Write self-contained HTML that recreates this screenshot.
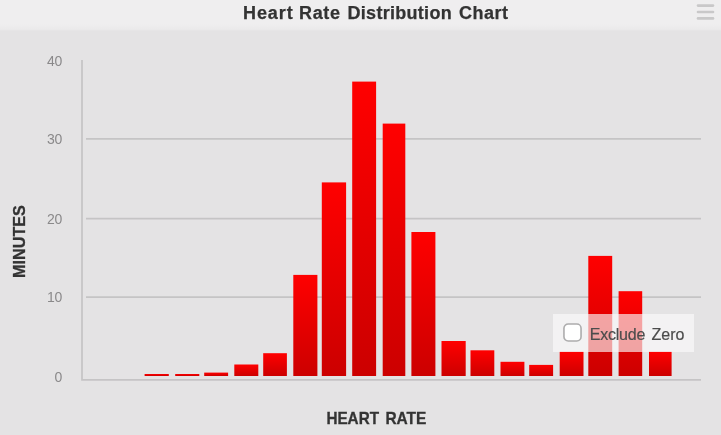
<!DOCTYPE html>
<html>
<head>
<meta charset="utf-8">
<title>Heart Rate Distribution Chart</title>
<style>
html,body{margin:0;padding:0;}
body{width:721px;height:435px;overflow:hidden;background:#e4e3e4;font-family:"Liberation Sans",sans-serif;position:relative;}
#titlebar{position:absolute;left:0;top:0;width:721px;height:32px;background:linear-gradient(to bottom,#efeeef 0,#efeeef 24px,#ebeaeb 29.2px,#e4e3e4 31px);}
#title span{position:absolute;top:0;}
#title{position:absolute;left:0;top:0;width:721px;font-weight:bold;font-size:18px;line-height:26px;color:#333;-webkit-text-stroke:0.25px #333;white-space:nowrap;}
#menu{position:absolute;left:696px;top:4px;width:19px;height:16px;}
#chart{position:absolute;left:0;top:0;width:721px;height:435px;}
#chart,#title,#menu,#opt{filter:blur(0.45px);}
.ylab{font-size:14px;letter-spacing:-0.3px;fill:#8a898a;}
.axt{font-size:16.2px;letter-spacing:-0.33px;word-spacing:3px;font-weight:bold;fill:#333;stroke:#333;stroke-width:0.3px;}
#opt{position:absolute;left:553px;top:314px;width:140.5px;height:37.7px;background:rgba(250,250,250,0.65);}
#cb{position:absolute;left:9.6px;top:9.4px;width:19px;height:19px;}
#cbl{position:absolute;left:36.7px;top:1.6px;line-height:38px;font-size:16px;letter-spacing:0px;word-spacing:2px;color:#4c4c4c;-webkit-text-stroke:0.2px #4c4c4c;white-space:nowrap;}
</style>
</head>
<body>
<div id="titlebar"></div>
<div id="title"><span style="left:243px;letter-spacing:0.92px">Heart</span> <span style="left:299px;letter-spacing:0.68px">Rate</span> <span style="left:347.5px;letter-spacing:0.29px">Distribution</span> <span style="left:459px;letter-spacing:0.52px">Chart</span></div>
<svg id="menu" viewBox="0 0 19 16"><g stroke="#c9c8c9" stroke-width="2.6" stroke-linecap="round"><line x1="2" y1="1.6" x2="17" y2="1.6"/><line x1="2" y1="8" x2="17" y2="8"/><line x1="2" y1="14.4" x2="17" y2="14.4"/></g></svg>
<svg id="chart" viewBox="0 0 721 435">
<defs><linearGradient id="g" x1="0" y1="0" x2="0" y2="1"><stop offset="0" stop-color="#ff0000"/><stop offset="1" stop-color="#cc0000"/></linearGradient></defs>
<g stroke="#c5c4c5" stroke-width="1.7" fill="none">
<line x1="86" y1="138.9" x2="701" y2="138.9"/>
<line x1="86" y1="218.6" x2="701" y2="218.6"/>
<line x1="86" y1="297.1" x2="701" y2="297.1"/>
<polyline points="82,60 82,379.9 701,379.9"/>
</g>
<g fill="url(#g)" id="bars">
<rect x="144.6" y="374.0" width="24.2" height="2.0"/>
<rect x="175.2" y="374.0" width="24.1" height="2.0"/>
<rect x="204.2" y="372.6" width="23.9" height="3.4"/>
<rect x="234.3" y="364.5" width="24.0" height="11.5"/>
<rect x="263.2" y="353.2" width="23.7" height="22.8"/>
<rect x="293.3" y="274.9" width="24.1" height="101.1"/>
<rect x="321.8" y="182.4" width="24.3" height="193.6"/>
<rect x="352.2" y="81.6" width="23.9" height="294.4"/>
<rect x="382.7" y="123.6" width="22.6" height="252.4"/>
<rect x="411.4" y="232.0" width="24.0" height="144.0"/>
<rect x="441.5" y="341.0" width="24.2" height="35.0"/>
<rect x="470.5" y="350.3" width="23.8" height="25.7"/>
<rect x="500.5" y="361.8" width="23.9" height="14.2"/>
<rect x="529.2" y="364.9" width="23.9" height="11.1"/>
<rect x="559.7" y="351.7" width="23.8" height="24.3"/>
<rect x="588.3" y="255.9" width="23.9" height="120.1"/>
<rect x="618.6" y="291.2" width="23.6" height="84.8"/>
<rect x="649.0" y="351.7" width="22.6" height="24.3"/>
</g>
<g class="ylab" text-anchor="end">
<text x="62" y="66">40</text>
<text x="62" y="144">30</text>
<text x="62" y="223.6">20</text>
<text x="62" y="302.2">10</text>
<text x="62" y="382.2">0</text>
</g>
<text class="axt" style="letter-spacing:0" text-anchor="middle" transform="translate(25.2,241.5) rotate(-90)">MINUTES</text>
<text class="axt" style="letter-spacing:0" x="326.4" y="424.1" textLength="52.6" lengthAdjust="spacingAndGlyphs">HEART</text>
<text class="axt" style="letter-spacing:0" x="385.4" y="424.1" textLength="41" lengthAdjust="spacingAndGlyphs">RATE</text>
</svg>
<div id="opt"><svg id="cb" viewBox="0 0 20 20"><rect x="1" y="1" width="18" height="18" rx="4.5" fill="#fff" stroke="#adacad" stroke-width="1.7"/></svg><div id="cbl"><span style="letter-spacing:-0.22px">Exclude</span> <span style="letter-spacing:0px">Zero</span></div></div>
</body>
</html>
